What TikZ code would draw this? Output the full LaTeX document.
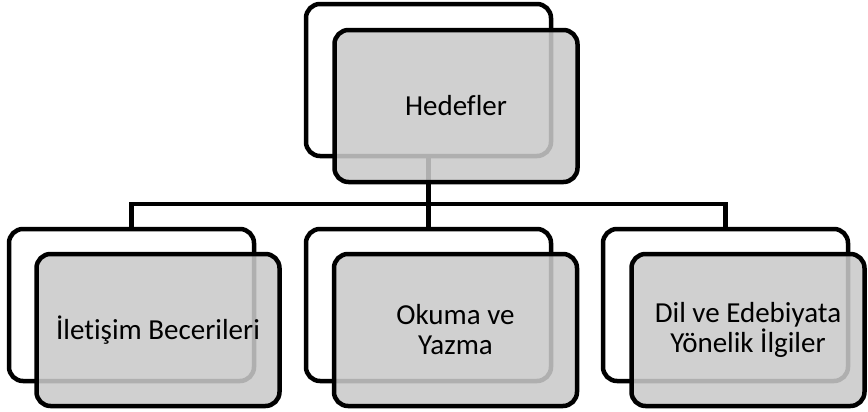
\documentclass[tikz,border=0pt]{standalone}
\usepackage{fontspec}
\setmainfont{Carlito}[Ligatures=NoCommon]
\usetikzlibrary{positioning}

\begin{document}
\begin{tikzpicture}[
	x=0.5pt, y=-0.5pt,
	on grid,
	node distance=112.5pt,
	line width=2.25pt,
	back/.style={
		rectangle,
		draw,
		rounded corners=7pt,
		minimum width=122.5pt,
		minimum height=76pt
	},
	front/.style={
		back,
		minimum width=121.5pt,
		fill={rgb,255:red,201;green,201;blue,201},
		fill opacity=0.875,
		text opacity=1,
		align=center,
		font=\fontsize{14.5}{15}\selectfont
	},
	link/.style={draw, line width=2.25pt}]

   \useasboundingbox (0,0) rectangle (868,412);

   % back boxes
   \node[back] (hed) at (428.5,80) {};
   \node[back, below=of hed] (oku) {};
   \node[back, left=148.5pt of oku] (ilet) {};
   \node[back, right=148.5pt of oku] (dil) {};

   % connectors
   \coordinate (fork) at (428.5,204);
   \draw[link] (ilet.north) |- (fork) -| (dil.north);
   \draw[link] (hed.south) -- (oku.north);

   % front boxes
   \node[front, below right=13pt and 13.75pt of hed] (hedf) {Hedefler};
   \node[front, below right=12.5pt and 13.25pt of ilet] (iletf) {İletişim Becerileri};
   \node[front, below right=12.5pt and 13.5pt of oku] (okuf) {Okuma ve\\Yazma};
   \node[front, minimum width=116.5pt, below right=12.5pt and 11.25pt of dil] (dilf) {Dil ve Edebiyata\\Yönelik İlgiler};
\end{tikzpicture}
\end{document}
